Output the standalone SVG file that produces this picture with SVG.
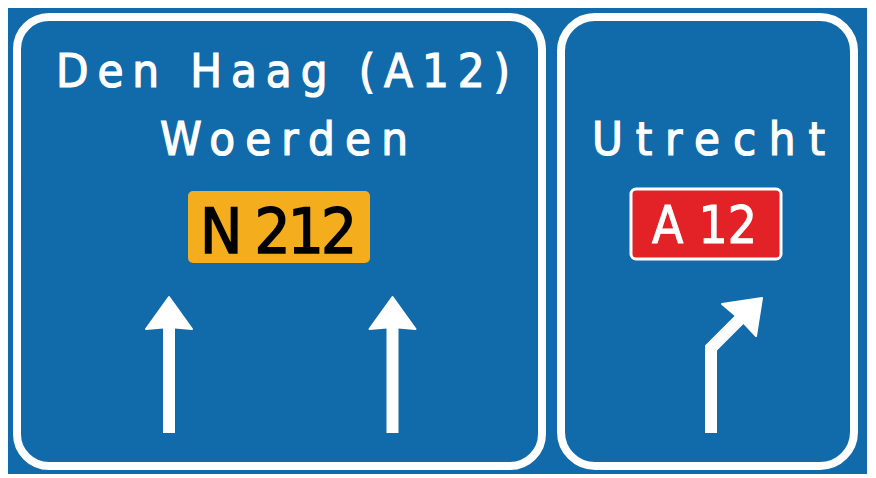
<svg xmlns="http://www.w3.org/2000/svg" width="876" height="478" viewBox="0 0 876 478">
<style>
.panel{fill:#116BAA;stroke:#FFFFFF;stroke-width:8}
.dest{font-family:"DejaVu Sans Condensed","DejaVu Sans","Liberation Sans",sans-serif;font-size:47px;fill:#FFFFFF;stroke:#FFFFFF;stroke-width:1.2}
.shield{font-family:"DejaVu Sans Condensed","DejaVu Sans","Liberation Sans",sans-serif}
.arrow{fill:#FFFFFF;stroke:#FFFFFF;stroke-linejoin:round;stroke-width:2}
.shaft{fill:none;stroke:#FFFFFF;stroke-width:12}
</style>
<rect x="0" y="0" width="876" height="478" fill="#FFFFFF"/>
<rect x="8" y="8" width="859" height="466" fill="#116BAA"/>
<g id="panel-left">
<rect class="panel" x="17" y="17" width="525" height="449" rx="32" ry="32"/>
<text class="dest" x="56" y="87" textLength="454" lengthAdjust="spacing">Den Haag (A12)</text>
<text class="dest" x="160" y="155" textLength="248" lengthAdjust="spacing">Woerden</text>
<g id="shield-n212">
<rect x="188" y="191" width="182" height="72" rx="5" fill="#F3AD1D"/>
<text class="shield" x="200" y="253" font-size="63" fill="#000000" stroke="#000000" stroke-width="1.5" textLength="157" lengthAdjust="spacing">N 212</text>
</g>
</g>
<g id="panel-right">
<rect class="panel" x="561" y="17" width="293" height="449" rx="34" ry="34"/>
<text class="dest" x="592" y="155" textLength="233" lengthAdjust="spacing">Utrecht</text>
<g id="shield-a12">
<rect x="631" y="189" width="150" height="70" rx="5" fill="#E22226" stroke="#FFFFFF" stroke-width="3"/>
<text class="shield" x="652" y="243" font-size="51" fill="#FFFFFF" stroke="#FFFFFF" stroke-width="1" textLength="105" lengthAdjust="spacing">A 12</text>
</g>
</g>
<g id="connectors">
<g id="arrow-left">
<line class="shaft" x1="169" y1="433" x2="169" y2="326"/>
<polygon class="arrow" points="169,297 192,329 169,327 146,329"/>
</g>
<g id="arrow-middle">
<line class="shaft" x1="392.5" y1="433" x2="392.5" y2="326"/>
<polygon class="arrow" points="392.5,297 415.5,329 392.5,327 369.5,329"/>
</g>
<g id="arrow-right">
<polyline class="shaft" points="711,433 711,348 742,317"/>
<polygon class="arrow" points="762,298 756,336 741,320 722,304"/>
</g>
</g>
</svg>
